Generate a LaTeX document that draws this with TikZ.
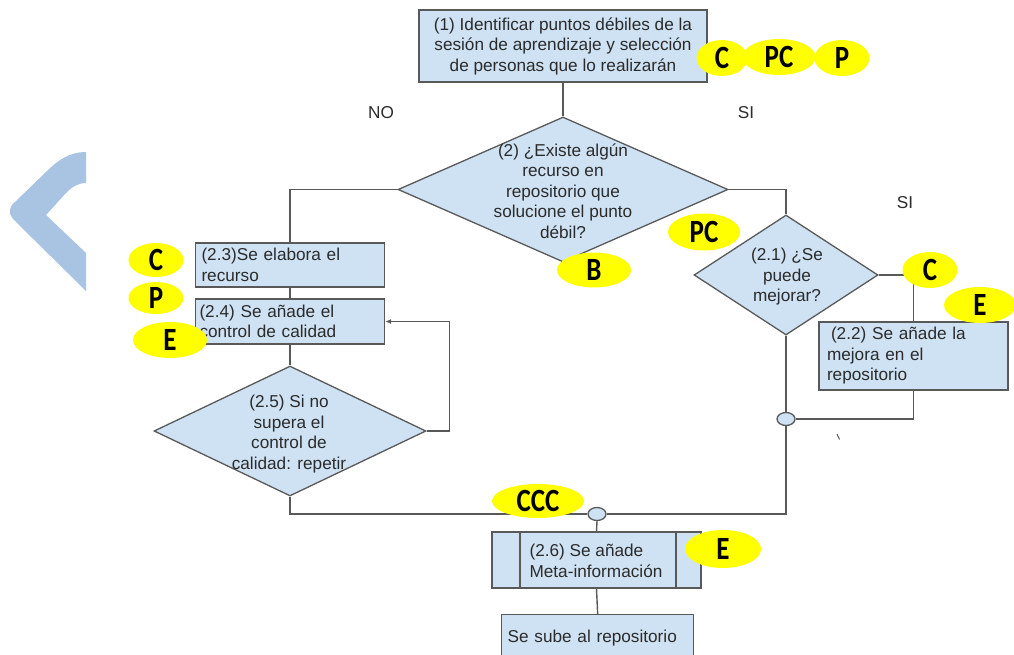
\documentclass[tikz,border=0pt]{standalone}
\usepackage{graphicx}
\usepackage{fontspec}
\setmainfont{Liberation Sans}
\newfontfamily\lblfont{Carlito}
\usetikzlibrary{shapes.geometric,arrows.meta}
\definecolor{boxfill}{HTML}{CFE2F3}
\definecolor{edgec}{HTML}{595959}
\definecolor{txtc}{HTML}{2B2B2B}
\definecolor{chev}{HTML}{A9C4E2}
\definecolor{yel}{HTML}{FFFF00}
\tikzset{
  base/.style={font=\fontsize{17.2}{20.5}\selectfont, text=txtc},
  box/.style={base, rectangle, draw=edgec, fill=boxfill, line width=1.3pt, inner sep=0pt},
  dia/.style={diamond, draw=edgec, fill=boxfill, line width=1.3pt, inner sep=0pt},
  ylabel/.style={ellipse, fill=yel, inner sep=0pt, text=black,
     font=\lblfont\bfseries\fontsize{27}{27}\selectfont},
  junc/.style={ellipse, draw=edgec, fill=boxfill, line width=1.3pt,
     minimum width=18pt, minimum height=13pt, inner sep=0pt},
  conn/.style={draw=edgec, line width=1.4pt},
  arr/.style={conn, -{Latex[length=6pt,width=5pt]}},
}
\newcommand{\yt}[1]{\scalebox{1}[1.2]{#1}}
\begin{document}
\begin{tikzpicture}[x=1pt,y=-1pt]
\useasboundingbox (0,0) rectangle (1014,655);
\clip (0,0) rectangle (1014,655);
\fill[white] (0,0) rectangle (1014,655);

% chevron
\fill[chev] (86,152) .. controls (70,152) and (58,160) .. (47,171) -- (15,202)
  .. controls (8,208) and (8,214) .. (15,221) -- (86,291) -- (86,253) -- (46,215)
  -- (66,193) .. controls (72,187) and (78,183) .. (86,183) -- cycle;

% nodes
\node[box, minimum width=288pt, minimum height=72pt, align=center] (b1) at (563,46)
  {(1) Identificar puntos débiles de la\\sesión de aprendizaje y selección\\de personas que lo realizarán};
\node[dia, minimum width=330pt, minimum height=145pt] (d2) at (563,189.5) {};
\node[base, align=center] (d2t) at (563,191) {(2) ¿Existe algún\\recurso en\\repositorio que\\solucione el punto\\débil?};

\node[box, minimum width=189pt, minimum height=44pt, text width=177pt, align=left] (b23) at (290,265)
  {(2.3)Se elabora el\\recurso};
\node[box, minimum width=189pt, minimum height=45pt, text width=181pt, align=left] (b24) at (290,321.5)
  {(2.4) Se añade el\\control de calidad};
\node[dia, minimum width=272pt, minimum height=130pt] (d25) at (290,431) {};
\node[base, align=center] (d25t) at (289,434) {(2.5) Si no\\supera el\\control de\\calidad: repetir};

\node[dia, minimum width=184pt, minimum height=120pt] (d21) at (786,275) {};
\node[base, align=center] (d21t) at (787,277) {(2.1) ¿Se\\puede\\mejorar?};
\node[box, minimum width=189pt, minimum height=68pt, text width=173pt, align=left] (b22) at (913.5,356)
  {\hspace*{4pt}(2.2) Se añade la\\mejora en el\\repositorio};

\node[junc] (j2) at (786,419) {};
\node[junc] (j1) at (597,514) {};

\node[box, minimum width=209pt, minimum height=56pt] (b26) at (596.5,560) {};
\draw[edgec, line width=1.3pt] (520,532) -- (520,588) (676,532) -- (676,588);
\node[base, align=left, anchor=west] (b26t) at (526,561) {(2.6) Se añade\\Meta-información};

\node[box, minimum width=192pt, minimum height=46pt, anchor=north west, text width=180pt, align=left] (bf) at (501,614)
  {Se sube al repositorio};

\node[base] (no) at (381,113) {NO};
\node[base] (si1) at (746,113) {SI};
\node[base] (si2) at (905,203) {SI};

% connectors
\draw[conn] (b1.south) -- (d2.north);
\draw[conn] (d2.west) -| (b23.north);
\draw[conn] (b23.south) -- (b24.north);
\draw[conn] (b24.south) -- (d25.north);
\draw[arr] (d25.east) -| ([xshift=64.5pt]b24.east) -- (b24.east);
\draw[conn] (d25.south) |- (j1.west);
\draw[conn] (d2.east) -| (d21.north);
\draw[conn] (d21.east) -| (b22.north);
\draw[conn] (b22.south) |- (j2.east);
\draw[conn] (d21.south) -- (j2.north);
\draw[conn] (j2.south) |- (j1.east);
\draw[conn] (j1.south) -- (b26.north);
\draw[conn] (b26.south) -- (bf.north);
\draw[edgec, line width=1pt] (837,434) -- (839.5,439.5);

% yellow labels
\node[ylabel, minimum width=51pt, minimum height=36pt] (yc1) at (722,58) {\yt{C}};
\node[ylabel, minimum width=73pt, minimum height=36pt] (ypc1) at (779,57) {\yt{PC}};
\node[ylabel, minimum width=55pt, minimum height=36pt] (yp1) at (842,58) {\yt{P}};
\node[ylabel, minimum width=72pt, minimum height=37pt] (ypc2) at (704,232) {\yt{PC}};
\node[ylabel, minimum width=74pt, minimum height=35pt] (yb) at (594,270) {\yt{B}};
\node[ylabel, minimum width=55pt, minimum height=34pt] (yc2) at (156,260) {\yt{C}};
\node[ylabel, minimum width=55pt, minimum height=32pt] (yp2) at (156,298) {\yt{P}};
\node[ylabel, minimum width=74pt, minimum height=36pt] (ye1) at (170,340) {\yt{E}};
\node[ylabel, minimum width=55pt, minimum height=36pt] (yc3) at (930,270) {\yt{C}};
\node[ylabel, minimum width=72pt, minimum height=36pt] (ye2) at (980,305) {\yt{E}};
\node[ylabel, minimum width=92pt, minimum height=34pt] (yccc) at (538,501) {\yt{CCC}};
\node[ylabel, minimum width=76pt, minimum height=38pt] (ye3) at (723,549) {\yt{E}};
\end{tikzpicture}
\end{document}
